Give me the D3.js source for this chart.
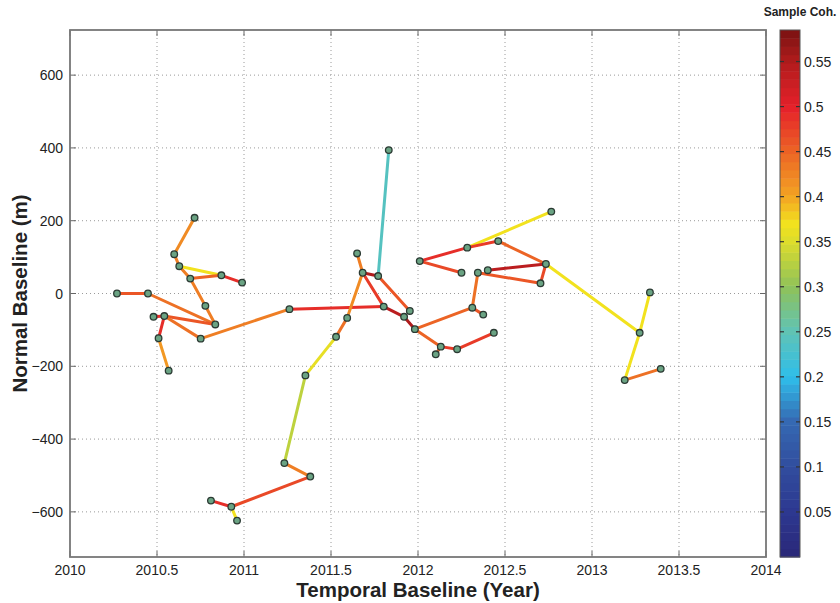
<!DOCTYPE html>
<html>
<head>
<meta charset="utf-8">
<script src="https://cdn.jsdelivr.net/npm/d3@7"></script>
<style>
  body { margin: 0; background: #fff; }
  text { font-family: "Liberation Sans", Arial, Helvetica, sans-serif; fill: #222; }
  .axis-title { font-weight: bold; font-size: 20.5px; }
  .tick-label { font-size: 14px; }
</style>
</head>
<body>
<div id="chart"></div>
<script>
  // Data //////////////////////////////////////////////////////////////////
  //////////////////////////////////////////////////////////////////////////
  // Acquisition dates (decimal year) of every image in the network
  const nodeYears = [
    2010.716, 2010.599, 2010.628, 2010.691, 2010.870, 2010.989, 2010.270, 2010.448,
    2010.778, 2010.835, 2010.480, 2010.542, 2010.509, 2010.751, 2010.567,
    2011.832, 2011.650, 2011.682, 2011.771, 2011.261, 2011.803, 2011.953, 2011.920,
    2011.982, 2011.593, 2011.529, 2011.353, 2012.010, 2012.131, 2012.102,
    2012.766, 2012.283, 2012.461, 2012.250, 2012.401, 2012.344, 2012.735, 2012.704,
    2012.312, 2012.375, 2012.436, 2012.225, 2013.274, 2013.333, 2013.188, 2013.395,
    2011.232, 2011.381, 2010.810, 2010.927, 2010.960
  ];

  // Normal baseline (m) of every image
  const nodeBaselines = [
    208, 108, 75, 41, 50, 30, 0, 0,
    -34, -85, -64, -62, -123, -124, -212,
    394, 110, 57, 48, -43, -36, -48, -64,
    -98, -67, -119, -225, 89, -146, -167,
    225, 126, 144, 57, 64, 57, 81, 28,
    -39, -58, -108, -153, -108, 3, -238, -207,
    -466, -503, -569, -586, -624
  ];

  // Interferometric pairs: index of first image, second image, sample coherence
  const edgeFrom = [
    0, 1, 2, 2, 3, 4, 3, 8, 6, 7, 10, 11, 11, 11, 12, 13,
    19, 17, 18, 16, 17, 24, 25, 17, 18, 20, 22, 23, 23, 28, 28, 41,
    27, 31, 31, 32, 27, 34, 35, 35, 38, 36, 36, 42, 42, 44,
    26, 46, 47, 48, 49
  ];
  const edgeTo = [
    1, 2, 3, 4, 4, 5, 8, 9, 7, 9, 11, 9, 12, 13, 14, 19,
    20, 18, 15, 17, 24, 25, 26, 20, 21, 22, 23, 38, 28, 29, 41, 40,
    31, 30, 32, 36, 33, 36, 37, 38, 39, 37, 42, 43, 44, 45,
    46, 47, 49, 49, 50
  ];
  const edgeCoh = [
    0.42, 0.43, 0.43, 0.37, 0.45, 0.49, 0.43, 0.43, 0.46, 0.44, 0.49, 0.46, 0.49, 0.44, 0.41, 0.43,
    0.49, 0.55, 0.24, 0.43, 0.42, 0.44, 0.36, 0.48, 0.46, 0.54, 0.55, 0.45, 0.45, 0.45, 0.48, 0.48,
    0.49, 0.37, 0.48, 0.45, 0.47, 0.54, 0.46, 0.44, 0.46, 0.47, 0.37, 0.37, 0.37, 0.44,
    0.33, 0.43, 0.47, 0.49, 0.37
  ];

  // Axis ticks
  const xTicks = [2010, 2010.5, 2011, 2011.5, 2012, 2012.5, 2013, 2013.5, 2014];
  const yTicks = [-600, -400, -200, 0, 200, 400, 600];
  const cohTicks = [0.05, 0.1, 0.15, 0.2, 0.25, 0.3, 0.35, 0.4, 0.45, 0.5, 0.55];

  // Colormap stops (a faded jet, as it appears in the figure)
  const cmapValues = [0, 0.05, 0.1, 0.15, 0.2, 0.25, 0.3, 0.35, 0.37, 0.4, 0.45, 0.5, 0.55, 0.585];
  const cmapColors = [
    '#2a2878', '#2d3890', '#314d9e', '#3568b2', '#2fbeea', '#5fc3b6', '#8fc25a',
    '#dcdc2c', '#f2e21e', '#f3a523', '#ec6425', '#e5202a', '#b01c1c', '#7a1212'
  ];

  // Chart /////////////////////////////////////////////////////////////////
  //////////////////////////////////////////////////////////////////////////
  const W = 840, H = 603;
  const plot = {left: 70, top: 30, right: 766, bottom: 557};
  const bar = {left: 780, width: 20};

  const svg = d3.select('#chart').append('svg')
    .attr('width', W)
    .attr('height', H);

  const x = d3.scaleLinear().domain([2010, 2014]).range([plot.left, plot.right]);
  const y = d3.scaleLinear().domain([-724, 724]).range([plot.bottom, plot.top]);
  const cmap = d3.scaleLinear().domain(cmapValues).range(cmapColors).clamp(true);
  const cy = d3.scaleLinear().domain([0, 0.585]).range([plot.bottom, plot.top]);

  // Dotted grid
  const grid = svg.append('g').attr('stroke', '#9a9a9a').attr('stroke-dasharray', '1,3');
  grid.selectAll('.gx')
    .data(xTicks.slice(1, -1))
    .enter().append('line')
    .attr('x1', d => x(d)).attr('x2', d => x(d))
    .attr('y1', plot.top).attr('y2', plot.bottom);
  grid.selectAll('.gy')
    .data(yTicks)
    .enter().append('line')
    .attr('x1', plot.left).attr('x2', plot.right)
    .attr('y1', d => y(d)).attr('y2', d => y(d));

  // Inside tick marks on all four sides
  const ticks = svg.append('g').attr('stroke', '#666').attr('stroke-width', 1);
  const tl = 6;
  xTicks.forEach(d => {
    ticks.append('line').attr('x1', x(d)).attr('x2', x(d)).attr('y1', plot.bottom).attr('y2', plot.bottom - tl);
    ticks.append('line').attr('x1', x(d)).attr('x2', x(d)).attr('y1', plot.top).attr('y2', plot.top + tl);
  });
  yTicks.forEach(d => {
    ticks.append('line').attr('x1', plot.left).attr('x2', plot.left + tl).attr('y1', y(d)).attr('y2', y(d));
    ticks.append('line').attr('x1', plot.right).attr('x2', plot.right - tl).attr('y1', y(d)).attr('y2', y(d));
  });

  // Frame
  svg.append('rect')
    .attr('x', plot.left).attr('y', plot.top)
    .attr('width', plot.right - plot.left).attr('height', plot.bottom - plot.top)
    .attr('fill', 'none').attr('stroke', '#777').attr('stroke-width', 1.8);

  // Tick labels
  svg.selectAll('.xl')
    .data(xTicks)
    .enter().append('text')
    .attr('class', 'tick-label')
    .attr('x', d => x(d)).attr('y', plot.bottom + 18)
    .attr('text-anchor', 'middle')
    .text(d => d);
  svg.selectAll('.yl')
    .data(yTicks)
    .enter().append('text')
    .attr('class', 'tick-label')
    .attr('x', plot.left - 7).attr('y', d => y(d) + 5)
    .attr('text-anchor', 'end')
    .text(d => d < 0 ? '\u2212' + Math.abs(d) : d);

  // Axis titles
  svg.append('text')
    .attr('class', 'axis-title')
    .attr('x', (plot.left + plot.right) / 2).attr('y', 597)
    .attr('text-anchor', 'middle')
    .text('Temporal Baseline (Year)');
  svg.append('text')
    .attr('class', 'axis-title')
    .attr('transform', `translate(27,${(plot.top + plot.bottom) / 2}) rotate(-90)`)
    .attr('text-anchor', 'middle')
    .text('Normal Baseline (m)');

  // Network edges coloured by coherence
  const edges = edgeFrom.map((f, i) => ({a: f, b: edgeTo[i], c: edgeCoh[i]}));
  svg.append('g')
    .selectAll('line')
    .data(edges)
    .enter().append('line')
    .attr('x1', d => x(nodeYears[d.a])).attr('y1', d => y(nodeBaselines[d.a]))
    .attr('x2', d => x(nodeYears[d.b])).attr('y2', d => y(nodeBaselines[d.b]))
    .attr('stroke', d => cmap(d.c))
    .attr('stroke-width', 3)
    .attr('stroke-linecap', 'round');

  // Image nodes
  svg.append('g')
    .selectAll('circle')
    .data(nodeYears)
    .enter().append('circle')
    .attr('cx', d => x(d))
    .attr('cy', (d, i) => y(nodeBaselines[i]))
    .attr('r', 3.3)
    .attr('fill', '#6aa383')
    .attr('stroke', '#2b3a33')
    .attr('stroke-width', 1.3);

  // Colorbar //////////////////////////////////////////////////////////////
  //////////////////////////////////////////////////////////////////////////
  const nBands = 64;
  const bands = d3.range(nBands).map(i => i * 0.585 / nBands);
  svg.append('g')
    .selectAll('rect')
    .data(bands)
    .enter().append('rect')
    .attr('x', bar.left)
    .attr('width', bar.width)
    .attr('y', d => cy(d + 0.585 / nBands))
    .attr('height', cy(0) - cy(0.585 / nBands) + 0.5)
    .attr('fill', d => cmap(d + 0.585 / nBands / 2));

  svg.append('rect')
    .attr('x', bar.left).attr('y', plot.top)
    .attr('width', bar.width).attr('height', plot.bottom - plot.top)
    .attr('fill', 'none').attr('stroke', '#555').attr('stroke-width', 1);

  const cticks = svg.append('g').attr('stroke', '#333').attr('stroke-width', 1.2);
  cohTicks.forEach(d => {
    cticks.append('line').attr('x1', bar.left).attr('x2', bar.left + 4).attr('y1', cy(d)).attr('y2', cy(d));
    cticks.append('line').attr('x1', bar.left + bar.width).attr('x2', bar.left + bar.width - 4).attr('y1', cy(d)).attr('y2', cy(d));
  });

  svg.selectAll('.cl')
    .data(cohTicks)
    .enter().append('text')
    .attr('class', 'tick-label')
    .attr('x', bar.left + bar.width + 4).attr('y', d => cy(d) + 5)
    .text(d => d);

  svg.append('text')
    .attr('x', 800).attr('y', 16)
    .attr('text-anchor', 'middle')
    .attr('font-weight', 'bold')
    .attr('font-size', '12px')
    .text('Sample Coh.');
</script>
</body>
</html>
